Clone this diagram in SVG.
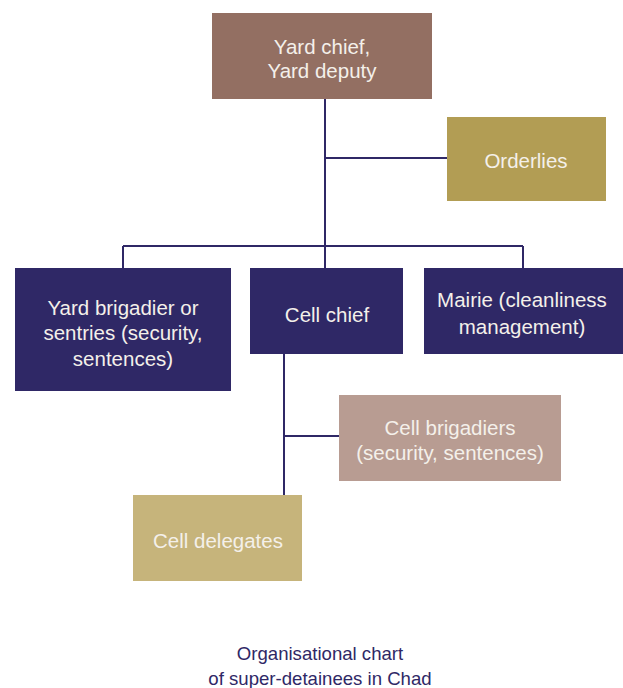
<svg xmlns="http://www.w3.org/2000/svg" width="623" height="688" viewBox="0 0 623 688">
<style>
.t{font-family:"Liberation Sans",Arial,sans-serif;font-size:20.5px;fill:#f4f0ea;text-anchor:middle}
.c{font-family:"Liberation Sans",Arial,sans-serif;font-size:18.6px;fill:#2f2866;text-anchor:middle}
.ln{stroke:#2f2866;stroke-width:2;fill:none}
</style>
<rect width="623" height="688" fill="#ffffff"/>
<g id="connectors">
<path class="ln" d="M325 98 V246 M325 158 H447 M123 246 H523 M123 246 V268 M325 246 V268 M523 246 V268 M284 354 V495 M284 436 H339"/>
</g>
<g id="yard-chief">
<rect x="212" y="13" width="220" height="86" fill="#936f62"/>
<text class="t" x="322" y="54">Yard chief,</text>
<text class="t" x="322" y="78">Yard deputy</text>
</g>
<g id="orderlies">
<rect x="447" y="117" width="159" height="84" fill="#b29d54"/>
<text class="t" x="526" y="168">Orderlies</text>
</g>
<g id="yard-brigadier">
<rect x="15" y="268" width="216" height="123" fill="#2f2866"/>
<text class="t" x="123" y="315">Yard brigadier or</text>
<text class="t" x="123" y="340">sentries (security,</text>
<text class="t" x="123" y="366">sentences)</text>
</g>
<g id="cell-chief">
<rect x="250" y="268" width="153" height="86" fill="#2f2866"/>
<text class="t" x="327" y="322">Cell chief</text>
</g>
<g id="mairie">
<rect x="424" y="268" width="199" height="86" fill="#2f2866"/>
<text class="t" x="522" y="307">Mairie (cleanliness</text>
<text class="t" x="522" y="334">management)</text>
</g>
<g id="cell-brigadiers">
<rect x="339" y="395" width="222" height="86" fill="#b89c92"/>
<text class="t" x="450" y="435">Cell brigadiers</text>
<text class="t" x="450" y="460">(security, sentences)</text>
</g>
<g id="cell-delegates">
<rect x="133" y="495" width="169" height="86" fill="#c6b47b"/>
<text class="t" x="218" y="548">Cell delegates</text>
</g>
<g id="caption">
<text class="c" x="320" y="660">Organisational chart</text>
<text class="c" x="320" y="685">of super-detainees in Chad</text>
</g>
</svg>
